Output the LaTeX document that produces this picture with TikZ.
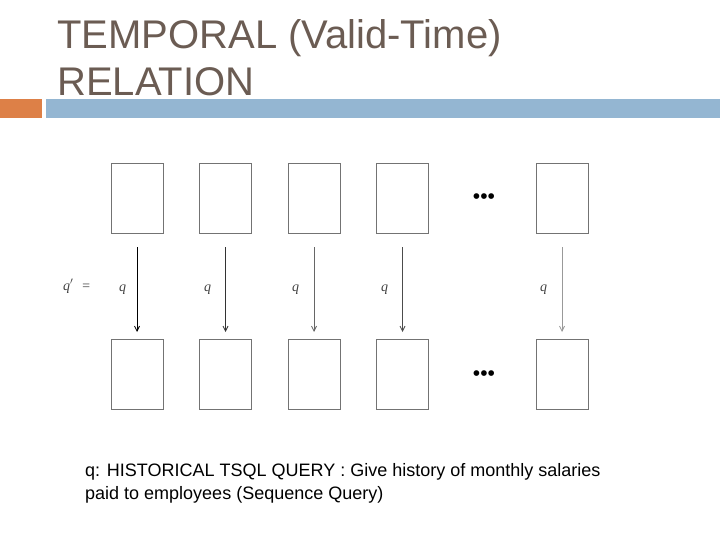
\documentclass[tikz,border=0pt]{standalone}
\usepackage{fontspec}
\setmainfont{Liberation Sans}
\newfontfamily\qfont{Liberation Serif}
\usetikzlibrary{arrows.meta}
\definecolor{titlec}{HTML}{6B5C53}
\definecolor{orangebar}{HTML}{DD8047}
\definecolor{bluebar}{HTML}{94B6D2}
\tikzset{
  relbox/.style={draw=black!55, line width=0.9pt, minimum width=52pt, minimum height=70pt, inner sep=0pt},
  qarrow/.style={-{Straight Barb[length=5pt,width=5pt]}, line width=0.8pt},
  qlabel/.style={font=\qfont\itshape\fontsize{14}{16}\selectfont, text=black!75, inner sep=0pt},
  dots/.style={font=\fontsize{21}{21}\selectfont, inner sep=0pt}
}
\begin{document}
\begin{tikzpicture}[x=1pt,y=-1pt]
\useasboundingbox (0,0) rectangle (720,540);
% title
\node[anchor=base west, inner sep=0pt, text=titlec, font=\fontsize{40}{48}\selectfont] (t1) at (57,49) {TEMPORAL (Valid-Time)};
\node[anchor=base west, inner sep=0pt, text=titlec, font=\fontsize{40}{48}\selectfont] (t2) at (57,96) {RELATION};
\fill[orangebar] (0,99) rectangle (42,118);
\fill[bluebar] (46,99) rectangle (720,118);
% boxes
\foreach \i/\x in {1/137,2/225.5,3/314,4/402.5,5/562}{
  \node[relbox] (a\i) at (\x,198) {};
  \node[relbox] (b\i) at (\x,374) {};
}
\node[dots] (d1) at (484,199) {•••};
\node[dots] (d2) at (484,376) {•••};
% arrows
\coordinate (s1) at (137,247); \coordinate (e1) at (137,332);
\coordinate (s2) at (225.5,247); \coordinate (e2) at (225.5,332);
\coordinate (s3) at (314,247); \coordinate (e3) at (314,332);
\coordinate (s4) at (402.5,247); \coordinate (e4) at (402.5,332);
\coordinate (s5) at (562,247); \coordinate (e5) at (562,332);
\draw[qarrow, black] (s1) -- (e1);
\draw[qarrow, black!80] (s2) -- (e2);
\draw[qarrow, black!60] (s3) -- (e3);
\draw[qarrow, black!70] (s4) -- (e4);
\draw[qarrow, black!40] (s5) -- (e5);
% labels
\node[qlabel, anchor=base west] (qp) at (63,290) {q$'$\hspace{8pt}=};
\node[qlabel, anchor=base west] (q1) at (119,291) {q};
\node[qlabel, anchor=base west] (q2) at (204,291) {q};
\node[qlabel, anchor=base west] (q3) at (292,291) {q};
\node[qlabel, anchor=base west] (q4) at (381,291) {q};
\node[qlabel, anchor=base west] (q5) at (540,291) {q};
% caption
\node[anchor=base west, inner sep=0pt, font=\fontsize{18}{23}\selectfont] (c1) at (85,476) {q: HISTORICAL TSQL QUERY : Give history of monthly salaries};
\node[anchor=base west, inner sep=0pt, font=\fontsize{18}{23}\selectfont] (c2) at (85,499) {paid to employees (Sequence Query)};
\end{tikzpicture}
\end{document}
